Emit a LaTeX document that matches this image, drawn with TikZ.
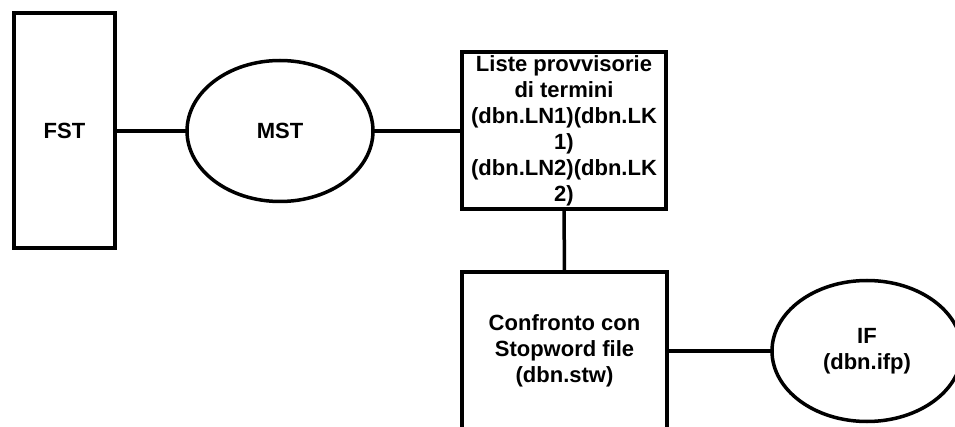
\documentclass[tikz,border=0pt]{standalone}
\usepackage{fontspec}
\setmainfont{Liberation Sans}
\usetikzlibrary{shapes.geometric}

\begin{document}
\begin{tikzpicture}[x=1pt,y=-1pt,
  every node/.style={font=\fontsize{22}{26}\selectfont\bfseries,align=center,inner sep=0pt,outer sep=0pt},
  blk/.style={draw,line width=4pt},
  oval/.style={draw,ellipse,line width=3.5pt},
  lnk/.style={line width=3.5pt}]
\useasboundingbox (0,0) rectangle (955,427);
\clip (0,0) rectangle (955,427);

% top row
\node[blk,minimum width=101pt,minimum height=235pt] (fst) at (64.5,131) {FST};
\node[oval,minimum width=186pt,minimum height=141pt] (mst) at (280,131) {MST};
\node[blk,minimum width=204pt,minimum height=157pt] (liste) at (564,131)
  {Liste provvisorie\\di termini\\(dbn.LN1)(dbn.LK\\1)\\(dbn.LN2)(dbn.LK\\2)};

% bottom row
\node[blk,minimum width=205pt,minimum height=158pt] (stw) at (564.5,351)
  {Confronto con\\Stopword file\\(dbn.stw)};
\node[oval,minimum width=190pt,minimum height=141pt] (ifp) at (867,351) {IF\\(dbn.ifp)};

\draw[lnk] (fst.east) -- (mst.west);
\draw[lnk] (mst.east) -- (liste.west);
\draw[lnk] (liste.south) -- (stw.north);
\draw[lnk] (stw.east) -- (ifp.west);
\end{tikzpicture}
\end{document}
